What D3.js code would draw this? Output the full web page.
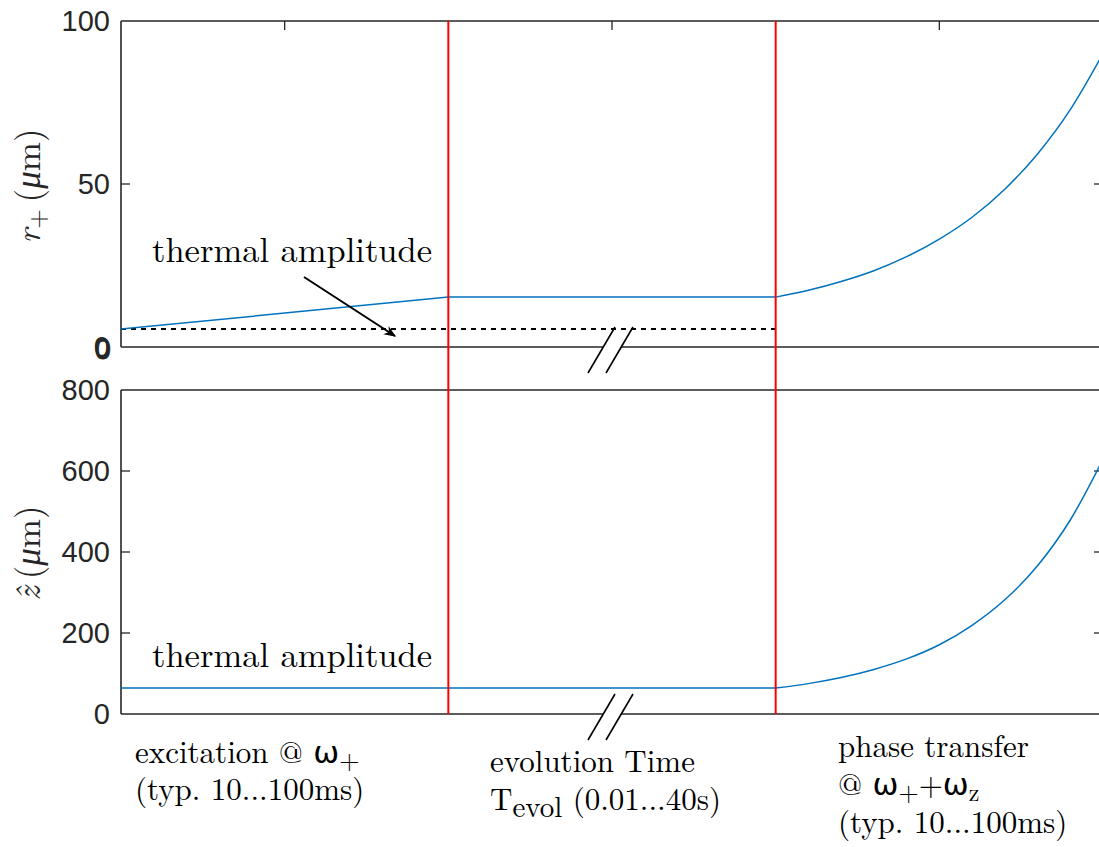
<!DOCTYPE html>
<html>
<head>
<meta charset="utf-8">
<script src="https://cdn.jsdelivr.net/npm/d3@7"></script>
<style>
  html, body { margin: 0; padding: 0; background: #fff; }
  svg { display: block; }
</style>
</head>
<body>
<svg id="chart" width="1099" height="847"></svg>
<script>
// ---------- data ----------
const phaseBounds = [1, 2];                 // red lines (excitation | evolution | transfer)
const topTicksX = [0.5, 1.5, 2.5];
const rTicks = [0, 50, 100];
const zTicks = [0, 200, 400, 600, 800];
const thermalR = 5.5;                       // dotted thermal amplitude in r+

// r+ : linear excitation, flat evolution, rising phase transfer
const rLinX = [0, 1, 2];
const rLinY = [5.5, 15.3, 15.3];
const rCurveX = [2.0, 2.1, 2.2, 2.3, 2.4, 2.5, 2.6, 2.7, 2.8, 2.9, 3.0];
const rCurveY = [15.3, 17.4, 20.1, 23.4, 27.7, 33.1, 39.8, 48.4, 59.2, 72.8, 90.0];

// z : flat thermal, rising phase transfer
const zLinX = [0, 2];
const zLinY = [64, 64];
const zCurveX = [2.0, 2.1, 2.2, 2.3, 2.4, 2.5, 2.6, 2.7, 2.8, 2.9, 3.0];
const zCurveY = [64, 75, 90, 110, 136, 171, 219, 282, 366, 479, 629];

// ---------- layout ----------
const svg = d3.select("#chart");
const x = d3.scaleLinear().domain([0, 3]).range([121, 1103]);
const yTop = d3.scaleLinear().domain([0, 100]).range([347, 21]);
const yBot = d3.scaleLinear().domain([0, 800]).range([714, 390]);
const axisColor = "#262626";
const blue = "#0072bd";
const breakX = 612;
const sans = "'Liberation Sans', Arial, sans-serif";
const serif = "'Latin Modern Roman', 'CMU Serif', 'Liberation Serif', 'DejaVu Serif', serif";

const defs = svg.append("defs");
defs.append("clipPath").attr("id", "clipTop").append("rect")
  .attr("x", x(0)).attr("y", yTop(100)).attr("width", x(3) - x(0)).attr("height", yTop(0) - yTop(100));
defs.append("clipPath").attr("id", "clipBot").append("rect")
  .attr("x", x(0)).attr("y", yBot(800)).attr("width", x(3) - x(0)).attr("height", yBot(0) - yBot(800));
defs.append("marker").attr("id", "arrow").attr("viewBox", "0 0 10 10")
  .attr("refX", 9).attr("refY", 5).attr("markerWidth", 12).attr("markerHeight", 12)
  .attr("markerUnits", "userSpaceOnUse").attr("orient", "auto")
  .append("path").attr("d", "M0,1 L10,5 L0,9 L3,5 Z").attr("fill", "#000");

function panel(yScale, ticks, showTopTicks) {
  const g = svg.append("g");
  const [y0, y1] = yScale.range();
  const x0 = x(0), x1 = x(3);
  g.append("line").attr("x1", x0).attr("x2", x0).attr("y1", y1).attr("y2", y0);
  g.append("line").attr("x1", x0).attr("x2", x1).attr("y1", y1).attr("y2", y1);
  g.append("line").attr("x1", x1).attr("x2", x1).attr("y1", y1).attr("y2", y0);
  g.append("line").attr("x1", x0).attr("x2", breakX - 9).attr("y1", y0).attr("y2", y0);
  g.append("line").attr("x1", breakX + 9).attr("x2", x1).attr("y1", y0).attr("y2", y0);
  g.selectAll("line").attr("stroke", axisColor).attr("stroke-width", 1.6);
  [-9, 9].forEach(d => {
    svg.append("line")
      .attr("x1", breakX + d - 15).attr("y1", y0 + 26)
      .attr("x2", breakX + d + 12).attr("y2", y0 - 20)
      .attr("stroke", "#000").attr("stroke-width", 1.6);
  });
  ticks.forEach(t => {
    if (t !== ticks[0] && t !== ticks[ticks.length - 1]) {
      svg.append("line").attr("x1", x0).attr("x2", x0 + 9)
        .attr("y1", yScale(t)).attr("y2", yScale(t))
        .attr("stroke", axisColor).attr("stroke-width", 1.3);
      svg.append("line").attr("x1", x1).attr("x2", x1 - 9)
        .attr("y1", yScale(t)).attr("y2", yScale(t))
        .attr("stroke", axisColor).attr("stroke-width", 1.3);
    }
  });
  svg.append("g").selectAll("text").data(ticks).join("text")
    .attr("x", 110).attr("y", d => yScale(d))
    .attr("dy", "0.36em")
    .attr("text-anchor", "end")
    .attr("font-family", sans)
    .attr("font-size", 29)
    .attr("fill", axisColor)
    .text(d => d);
  if (showTopTicks) {
    topTicksX.forEach(t => {
      svg.append("line").attr("x1", x(t)).attr("x2", x(t))
        .attr("y1", y1).attr("y2", y1 + 9)
        .attr("stroke", axisColor).attr("stroke-width", 1.3);
    });
  }
}

panel(yTop, rTicks, true);
panel(yBot, zTicks, false);
svg.append("text").attr("x", 111).attr("y", yTop(0) + 2).attr("dy", "0.36em")
  .attr("text-anchor", "end").attr("font-family", sans)
  .attr("font-size", 29).attr("fill", axisColor).attr("stroke", axisColor).attr("stroke-width", 0.8).text("0");

// ---------- lines ----------
const lineLin = (ys) => d3.line().x(d => x(d[0])).y(d => ys(d[1]));
const lineCurve = (ys) => d3.line().x(d => x(d[0])).y(d => ys(d[1])).curve(d3.curveMonotoneX);

const gTop = svg.append("g").attr("clip-path", "url(#clipTop)");
gTop.append("line").attr("x1", x(0)).attr("x2", x(2))
  .attr("y1", yTop(thermalR)).attr("y2", yTop(thermalR))
  .attr("stroke", "#000").attr("stroke-width", 2).attr("stroke-dasharray", "5,5");
gTop.append("path").attr("d", lineLin(yTop)(d3.zip(rLinX, rLinY)))
  .attr("fill", "none").attr("stroke", blue).attr("stroke-width", 1.5);
gTop.append("path").attr("d", lineCurve(yTop)(d3.zip(rCurveX, rCurveY)))
  .attr("fill", "none").attr("stroke", blue).attr("stroke-width", 1.5);

const gBot = svg.append("g").attr("clip-path", "url(#clipBot)");
gBot.append("path").attr("d", lineLin(yBot)(d3.zip(zLinX, zLinY)))
  .attr("fill", "none").attr("stroke", blue).attr("stroke-width", 1.5);
gBot.append("path").attr("d", lineCurve(yBot)(d3.zip(zCurveX, zCurveY)))
  .attr("fill", "none").attr("stroke", blue).attr("stroke-width", 1.5);

phaseBounds.forEach(b => {
  svg.append("line").attr("x1", x(b)).attr("x2", x(b))
    .attr("y1", yTop(100)).attr("y2", yBot(0))
    .attr("stroke", "#ff0000").attr("stroke-width", 2);
});

// ---------- annotations ----------
svg.append("text").attr("x", 292).attr("y", 262).attr("text-anchor", "middle")
  .attr("font-family", serif).attr("font-size", 34.5).attr("fill", "#000").text("thermal amplitude");
svg.append("text").attr("x", 292).attr("y", 667).attr("text-anchor", "middle")
  .attr("font-family", serif).attr("font-size", 34.5).attr("fill", "#000").text("thermal amplitude");
svg.append("line").attr("x1", 304).attr("y1", 277).attr("x2", 395).attr("y2", 336)
  .attr("stroke", "#000").attr("stroke-width", 2).attr("marker-end", "url(#arrow)");

function yLabel(cx, cy, sym, sub) {
  const t = svg.append("text").attr("transform", `translate(${cx},${cy}) rotate(-90)`)
    .attr("text-anchor", "middle").attr("font-family", serif).attr("font-size", 35).attr("fill", "#262626");
  t.append("tspan").attr("font-style", "italic").text(sym);
  if (sub) t.append("tspan").attr("font-size", 25).attr("dy", 6).text(sub);
  t.append("tspan").attr("dy", sub ? -6 : 0).text("\u2009(");
  t.append("tspan").attr("font-style", "italic").text("\u03bc");
  t.append("tspan").text("m)");
}
yLabel(40, 186, "r", "+");
yLabel(40, 553, "\u1e91", null);

const descSize = 31;
function omega(sel) {
  return sel.append("tspan").attr("font-family", "'DejaVu Sans', sans-serif").text("\u03c9");
}
let t1 = svg.append("text").attr("x", 135).attr("y", 763).attr("font-family", serif).attr("font-size", descSize);
t1.append("tspan").text("excitation @ ");
omega(t1);
t1.append("tspan").attr("font-size", 26).attr("dy", 6).text("+");
svg.append("text").attr("x", 135).attr("y", 800).attr("font-family", serif).attr("font-size", descSize).text("(typ. 10...100ms)");

svg.append("text").attr("x", 490).attr("y", 772).attr("font-family", serif).attr("font-size", descSize).text("evolution Time");
let t2 = svg.append("text").attr("x", 490).attr("y", 810).attr("font-family", serif).attr("font-size", descSize);
t2.append("tspan").text("T");
t2.append("tspan").attr("font-size", 29).attr("dy", 7).text("evol");
t2.append("tspan").attr("dy", -7).text(" (0.01...40s)");

svg.append("text").attr("x", 838).attr("y", 757).attr("font-family", serif).attr("font-size", descSize).text("phase transfer");
let t3 = svg.append("text").attr("x", 838).attr("y", 795).attr("font-family", serif).attr("font-size", descSize);
t3.append("tspan").text("@ ");
omega(t3);
t3.append("tspan").attr("font-size", 26).attr("dy", 6).text("+");
t3.append("tspan").attr("dy", -6).text("+");
omega(t3);
t3.append("tspan").attr("font-size", 24).attr("dy", 6).text("z");
svg.append("text").attr("x", 838).attr("y", 833).attr("font-family", serif).attr("font-size", descSize).text("(typ. 10...100ms)");
</script>
</body>
</html>
